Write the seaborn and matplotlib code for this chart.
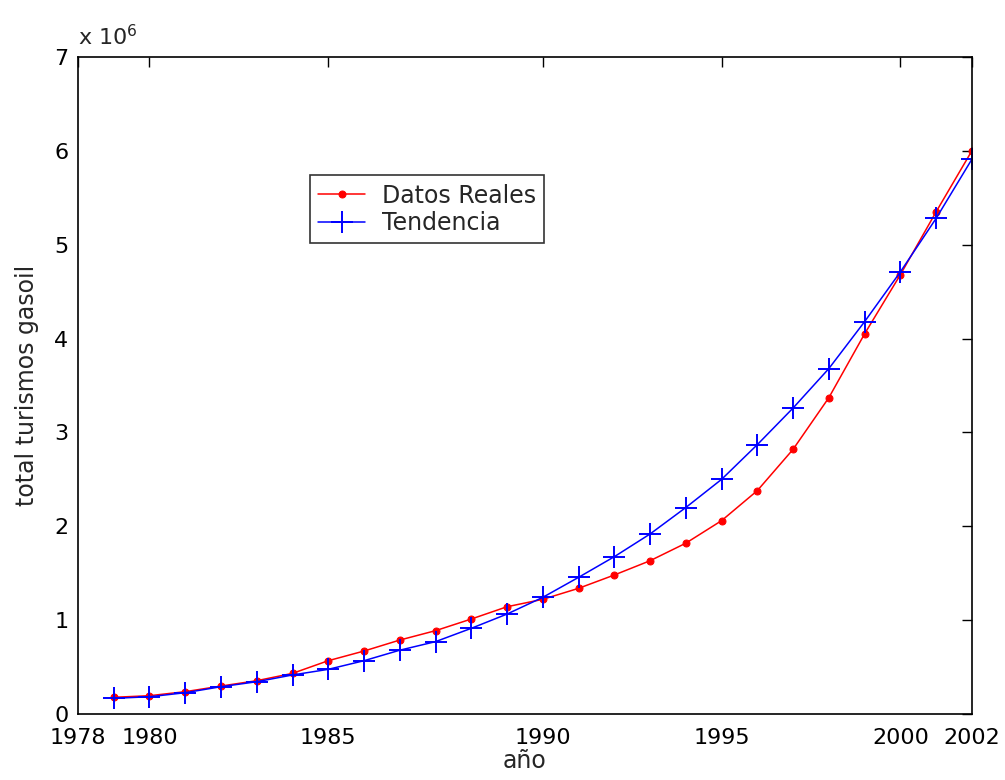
import numpy as np
import pandas as pd
import matplotlib
matplotlib.use("Agg")
import matplotlib.pyplot as plt
import seaborn as sns

# sample index along the x axis (1..25), tick labels are placed on it by hand
muestra = list(range(1, 26))
datos_reales = [0.178, 0.195, 0.238, 0.298, 0.355, 0.433, 0.568, 0.671, 0.788, 0.888,
                1.012, 1.143, 1.222, 1.339, 1.481, 1.633, 1.82, 2.06, 2.38, 2.82,
                3.37, 4.05, 4.68, 5.35, 6.00]  # x 10^6
tendencia = [0.167, 0.184, 0.227, 0.291, 0.344, 0.416, 0.476, 0.568, 0.68, 0.771,
             0.913, 1.065, 1.243, 1.456, 1.676, 1.918, 2.20, 2.50, 2.87, 3.26,
             3.68, 4.18, 4.71, 5.28, 5.91]  # x 10^6
tick_pos = [0, 2, 7, 13, 18, 23, 25]
tick_labels = ['1978', '1980', '1985', '1990', '1995', '2000', '2002']

df = pd.DataFrame({'muestra': muestra, 'reales': datos_reales, 'tendencia': tendencia})

sns.set_style("white")
plt.rcParams['font.family'] = ['DejaVu Sans']

fig = plt.figure(figsize=(10.05, 7.8), dpi=100)
ax = fig.add_axes([0.0776, 0.0846, 0.8894, 0.8423])

sns.lineplot(data=df, x='muestra', y='reales', ax=ax, color='#ff0000', marker='.',
             markersize=10, markeredgecolor='#ff0000', linewidth=1.1, label='Datos Reales')
sns.lineplot(data=df, x='muestra', y='tendencia', ax=ax, color='#0000ff', marker='+',
             markersize=16, markeredgewidth=1.4, markeredgecolor='#0000ff',
             linewidth=1.1, label='Tendencia')

ax.set_xlim(0, 25)
ax.set_ylim(0, 7)
ax.set_xticks(tick_pos)
ax.set_xticklabels(tick_labels)
ax.set_yticks(range(0, 8))

for s in ax.spines.values():
    s.set_visible(True)
    s.set_color('black')
    s.set_linewidth(1.2)
ax.tick_params(direction='in', length=7, width=1, top=True, right=True,
               labelsize=16, colors='black')
ax.tick_params(axis='x', pad=10)
ax.tick_params(axis='y', pad=7)

ax.set_xlabel('año', fontsize=17, labelpad=1)
ax.set_ylabel('total turismos gasoil', fontsize=17, labelpad=11)
ax.text(0.0, 1.012, r'x 10$^{6}$', transform=ax.transAxes, fontsize=16, ha='left', va='bottom')

leg = ax.legend(loc='upper left', bbox_to_anchor=(0.2595, 0.820), borderaxespad=0,
                fontsize=17, frameon=True, fancybox=False, edgecolor='black',
                handlelength=2.0, handletextpad=0.7, borderpad=0.35, labelspacing=0.15)
leg.get_frame().set_linewidth(1.2)

plt.savefig('out.png', dpi=100)
